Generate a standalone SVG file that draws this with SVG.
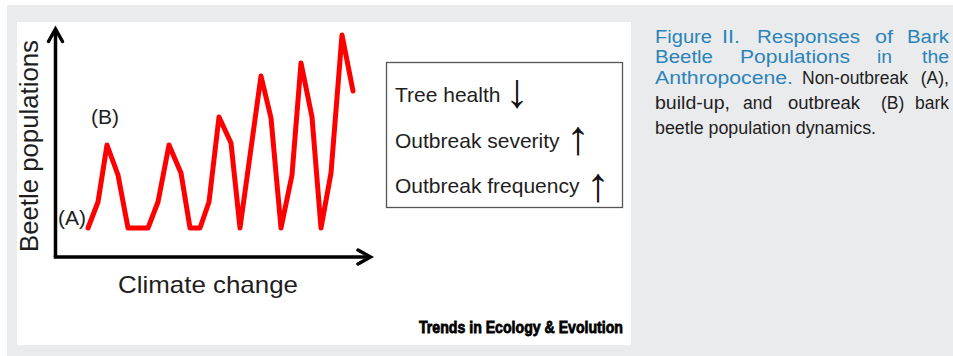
<svg xmlns="http://www.w3.org/2000/svg" width="953" height="356" viewBox="0 0 953 356">
  <defs>
    <style>
      .sans { font-family: "Liberation Sans", Arial, sans-serif; }
      .axis { fill: none; stroke: #000; stroke-width: 3.5; stroke-linecap: butt; }
      .head { fill: none; stroke: #000; stroke-width: 3.5; stroke-linecap: round; stroke-linejoin: miter; }
      .series { fill: none; stroke: #ff0000; stroke-width: 5; stroke-linejoin: round; stroke-linecap: round; }
      .lbl { font-family: "Liberation Sans", Arial, sans-serif; fill: #1e1e1e; }
      .arr { font-family: "Liberation Sans", Arial, sans-serif; fill: #111; font-size: 48px; }
      .blue { font-family: "Liberation Sans", Arial, sans-serif; fill: #2b84b9; font-size: 18px; }
      .blk { font-family: "Liberation Sans", Arial, sans-serif; fill: #1e1e1e; font-size: 17.5px; }
    </style>
  </defs>

  <g id="background">
    <rect x="0" y="0" width="953" height="356" fill="#ffffff"/>
    <rect x="7" y="5" width="946" height="351" fill="#eaebed"/>
    <rect x="17" y="22" width="614" height="323" fill="#ffffff"/>
  </g>

  <g id="chart">
    <g id="connectors">
      <line class="axis" x1="55.5" y1="30" x2="55.5" y2="257"/>
      <line class="axis" x1="53.75" y1="257" x2="369" y2="257"/>
      <polyline class="head" points="48.5,41.5 55.5,29 62.5,41.5"/>
      <polyline class="head" points="358,250 370.5,257 358,264"/>
    </g>
    <g id="series-line">
      <polyline class="series" points="88,228 98,202 107,145 118,175 128,228 148,228 158,202 169,145 181,173 190,228 200,228 209,202 219,117 231,143 240,228 261,76 271,118 281,228 292,175 301,63 312,117 321,228 331,173 342,35 353,91"/>
    </g>
    <g id="y-label">
      <text class="lbl" font-size="25.5" transform="translate(38,252) rotate(-90)" textLength="212" lengthAdjust="spacingAndGlyphs">Beetle populations</text>
    </g>
    <g id="x-label">
      <text class="lbl" x="118" y="293" font-size="24" textLength="180" lengthAdjust="spacingAndGlyphs">Climate change</text>
    </g>
    <g id="label-B">
      <text class="lbl" x="91" y="124" font-size="21">(B)</text>
    </g>
    <g id="label-A">
      <text class="lbl" x="58" y="225" font-size="21">(A)</text>
    </g>
  </g>

  <g id="legend">
    <rect x="386.5" y="62.5" width="236" height="145" fill="#ffffff" stroke="#555555" stroke-width="1.3"/>
    <text class="lbl" x="395" y="102" font-size="21">Tree health</text>
    <text class="arr" x="517" y="107" text-anchor="middle">↓</text>
    <text class="lbl" x="395" y="148" font-size="21">Outbreak severity</text>
    <text class="arr" x="578" y="154" text-anchor="middle">↑</text>
    <text class="lbl" x="395" y="193" font-size="21">Outbreak frequency</text>
    <text class="arr" x="598" y="201" text-anchor="middle">↑</text>
  </g>

  <g id="credit">
    <text class="sans" x="419" y="333" font-size="16.5" font-weight="bold" fill="#000" stroke="#000" stroke-width="0.8" textLength="204" lengthAdjust="spacingAndGlyphs">Trends in Ecology &amp; Evolution</text>
  </g>

  <g id="caption">
    <text class="blue" x="655" y="42.5" textLength="57" lengthAdjust="spacingAndGlyphs">Figure</text>
    <text class="blue" x="722" y="42.5" textLength="18" lengthAdjust="spacingAndGlyphs">II.</text>
    <text class="blue" x="757" y="42.5" textLength="103" lengthAdjust="spacingAndGlyphs">Responses</text>
    <text class="blue" x="875" y="42.5" textLength="18" lengthAdjust="spacingAndGlyphs">of</text>
    <text class="blue" x="907" y="42.5" textLength="42" lengthAdjust="spacingAndGlyphs">Bark</text>

    <text class="blue" x="655" y="63" textLength="58" lengthAdjust="spacingAndGlyphs">Beetle</text>
    <text class="blue" x="740" y="63" textLength="110" lengthAdjust="spacingAndGlyphs">Populations</text>
    <text class="blue" x="877" y="63" textLength="15" lengthAdjust="spacingAndGlyphs">in</text>
    <text class="blue" x="922" y="63" textLength="27" lengthAdjust="spacingAndGlyphs">the</text>

    <text class="blue" x="655" y="83.5" textLength="138" lengthAdjust="spacingAndGlyphs">Anthropocene.</text>
    <text class="blk" x="802" y="83.5" textLength="106" lengthAdjust="spacingAndGlyphs">Non-outbreak</text>
    <text class="blk" x="949" y="83.5" text-anchor="end">(A),</text>

    <text class="blk" x="655" y="108.5" textLength="75" lengthAdjust="spacingAndGlyphs">build-up,</text>
    <text class="blk" x="743" y="108.5">and</text>
    <text class="blk" x="788" y="108.5" textLength="72" lengthAdjust="spacingAndGlyphs">outbreak</text>
    <text class="blk" x="881" y="108.5">(B)</text>
    <text class="blk" x="949" y="108.5" text-anchor="end">bark</text>

    <text class="blk" x="655" y="133.5" textLength="221" lengthAdjust="spacingAndGlyphs">beetle population dynamics.</text>
  </g>
</svg>
